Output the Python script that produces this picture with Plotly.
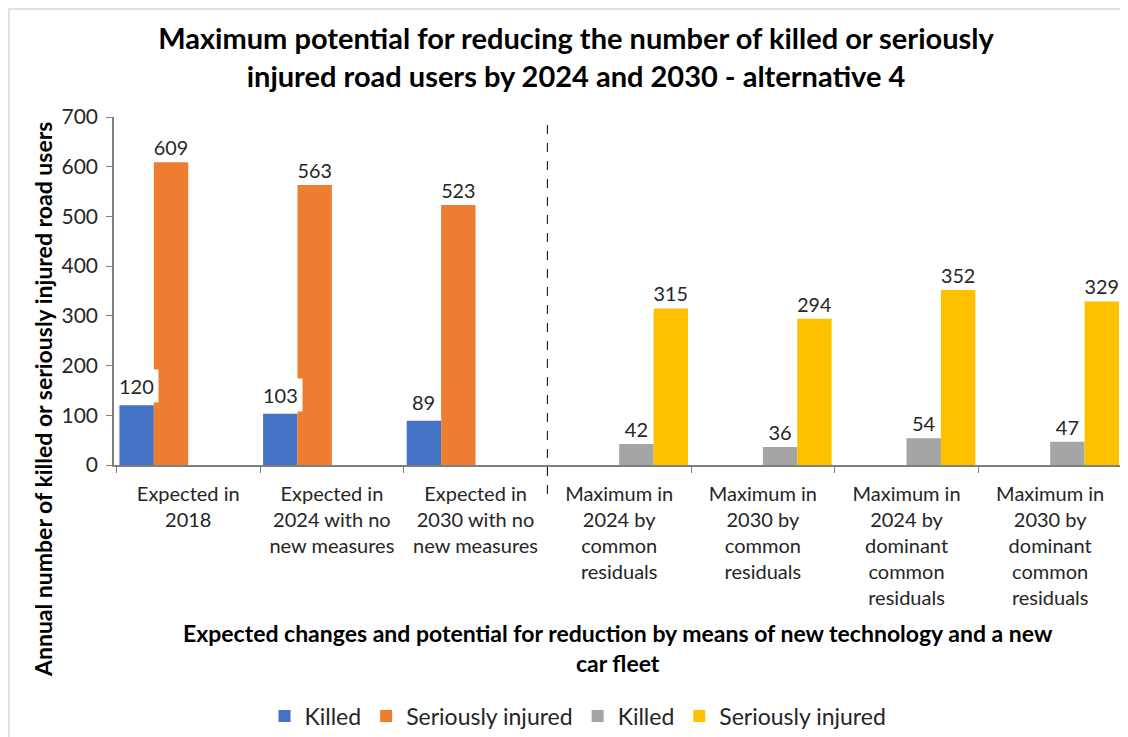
import plotly.graph_objects as go

categories = [
    "Expected in<br>2018",
    "Expected in<br>2024 with no<br>new measures",
    "Expected in<br>2030 with no<br>new measures",
    "Maximum in<br>2024 by<br>common<br>residuals",
    "Maximum in<br>2030 by<br>common<br>residuals",
    "Maximum in<br>2024 by<br>dominant<br>common<br>residuals",
    "Maximum in<br>2030 by<br>dominant<br>common<br>residuals",
]
killed_expected = [120, 103, 89, 0, 0, 0, 0]
injured_expected = [609, 563, 523, 0, 0, 0, 0]
killed_maximum = [0, 0, 0, 42, 36, 54, 47]
injured_maximum = [0, 0, 0, 315, 294, 352, 329]
n_expected = 3

series = [
    ("Killed", killed_expected, "#4472C4"),
    ("Seriously injured", injured_expected, "#ED7D31"),
    ("Killed", killed_maximum, "#A5A5A5"),
    ("Seriously injured", injured_maximum, "#FFC000"),
]

FONT = "Lato, Open Sans, sans-serif"
OFF = 8  # page body margin
W, H = 1128 - OFF, 737 - OFF
# plot area in page pixels
PX0, PX1, PY0, PY1 = 114, 1122, 117, 465
L, T = PX0 - OFF, PY0 - OFF
plot_w, plot_h = PX1 - PX0, PY1 - PY0
R, B = W - L - plot_w, H - T - plot_h


def px(x):
    return (x - PX0) / plot_w


def py(y):
    return (PY1 - y) / plot_h


bargap = 0.042
bar_px = plot_w / len(categories) * (1 - bargap) / 4

fig = go.Figure()
for i, (name, vals, color) in enumerate(series):
    txt = [str(v) if v else "" for v in vals]
    fig.add_trace(go.Bar(
        name=name, x=categories, y=vals, marker_color=color,
        marker_line_width=0,
        text=txt if i > 0 else None,
        textposition="outside", cliponaxis=False,
        textfont=dict(family=FONT, size=20, color="#262626"),
    ))

# Killed (expected) labels with white box
for c, v in zip(categories, killed_expected):
    if v:
        fig.add_annotation(
            x=c, y=v, xref="x", yref="y", text=str(v), showarrow=False,
            xshift=-1.5 * bar_px, yanchor="bottom", yshift=2,
            bgcolor="white", borderpad=4,
            font=dict(family=FONT, size=20, color="#262626"),
        )

# y-axis title
fig.add_annotation(
    x=px(43), y=py(400), xref="paper", yref="paper",
    text="<b>Annual number of killed or seriously injured road users</b>",
    textangle=-90, showarrow=False, xanchor="center", yanchor="middle",
    font=dict(family=FONT, size=23, color="black"),
)
# x-axis title
fig.add_annotation(
    x=0.5, y=py(648), xref="paper", yref="paper",
    text="<b>Expected changes and potential for reduction by means of new technology and a new<br>car fleet</b>",
    showarrow=False, xanchor="center", yanchor="middle",
    font=dict(family=FONT, size=23, color="black"),
)

# dashed separator
fig.add_shape(type="line", xref="x", yref="paper",
              x0=n_expected - 0.5, x1=n_expected - 0.5,
              y0=py(494), y1=1.0,
              line=dict(color="black", width=1, dash="dash"))
# outer border
fig.add_shape(type="rect", xref="paper", yref="paper",
              x0=px(9), x1=px(1150), y0=py(760), y1=py(9),
              line=dict(color="#D9D9D9", width=1.5), layer="below")

fig.update_layout(
    width=W, height=H, autosize=False,
    margin=dict(l=L, r=R, t=T, b=B, autoexpand=False),
    paper_bgcolor="white", plot_bgcolor="white",
    barmode="group", bargap=bargap, bargroupgap=0,
    font=dict(family=FONT, size=20, color="#262626"),
    title=dict(
        text="<b>Maximum potential for reducing the number of killed or seriously<br>injured road users by 2024 and 2030 - alternative 4</b>",
        x=(576 - OFF) / W, xanchor="center", y=1 - (49 - OFF) / H, yanchor="top",
        font=dict(family=FONT, size=29, color="black"),
    ),
    legend=dict(
        orientation="h", x=px(578), xanchor="center",
        y=py(716), yanchor="middle",
        font=dict(family=FONT, size=23, color="#262626"),
        itemwidth=30, traceorder="normal",
    ),
    showlegend=True,
)
fig.update_xaxes(
    showline=True, linecolor="#7F7F7F", linewidth=1.5,
    ticks="outside", tickson="boundaries", ticklen=6, tickcolor="#7F7F7F",
    showgrid=False, tickfont=dict(family=FONT, size=20, color="#262626"),
    tickangle=0, ticklabelstandoff=10, automargin=False,
)
fig.update_yaxes(
    range=[0, 700], dtick=100, showline=True, linecolor="#7F7F7F", linewidth=1.5,
    ticks="outside", ticklen=6, tickcolor="#7F7F7F", showgrid=False,
    zeroline=False, tickfont=dict(family=FONT, size=21, color="#262626"),
    ticklabelstandoff=4, automargin=False,
)

fig.write_html("out.html")
